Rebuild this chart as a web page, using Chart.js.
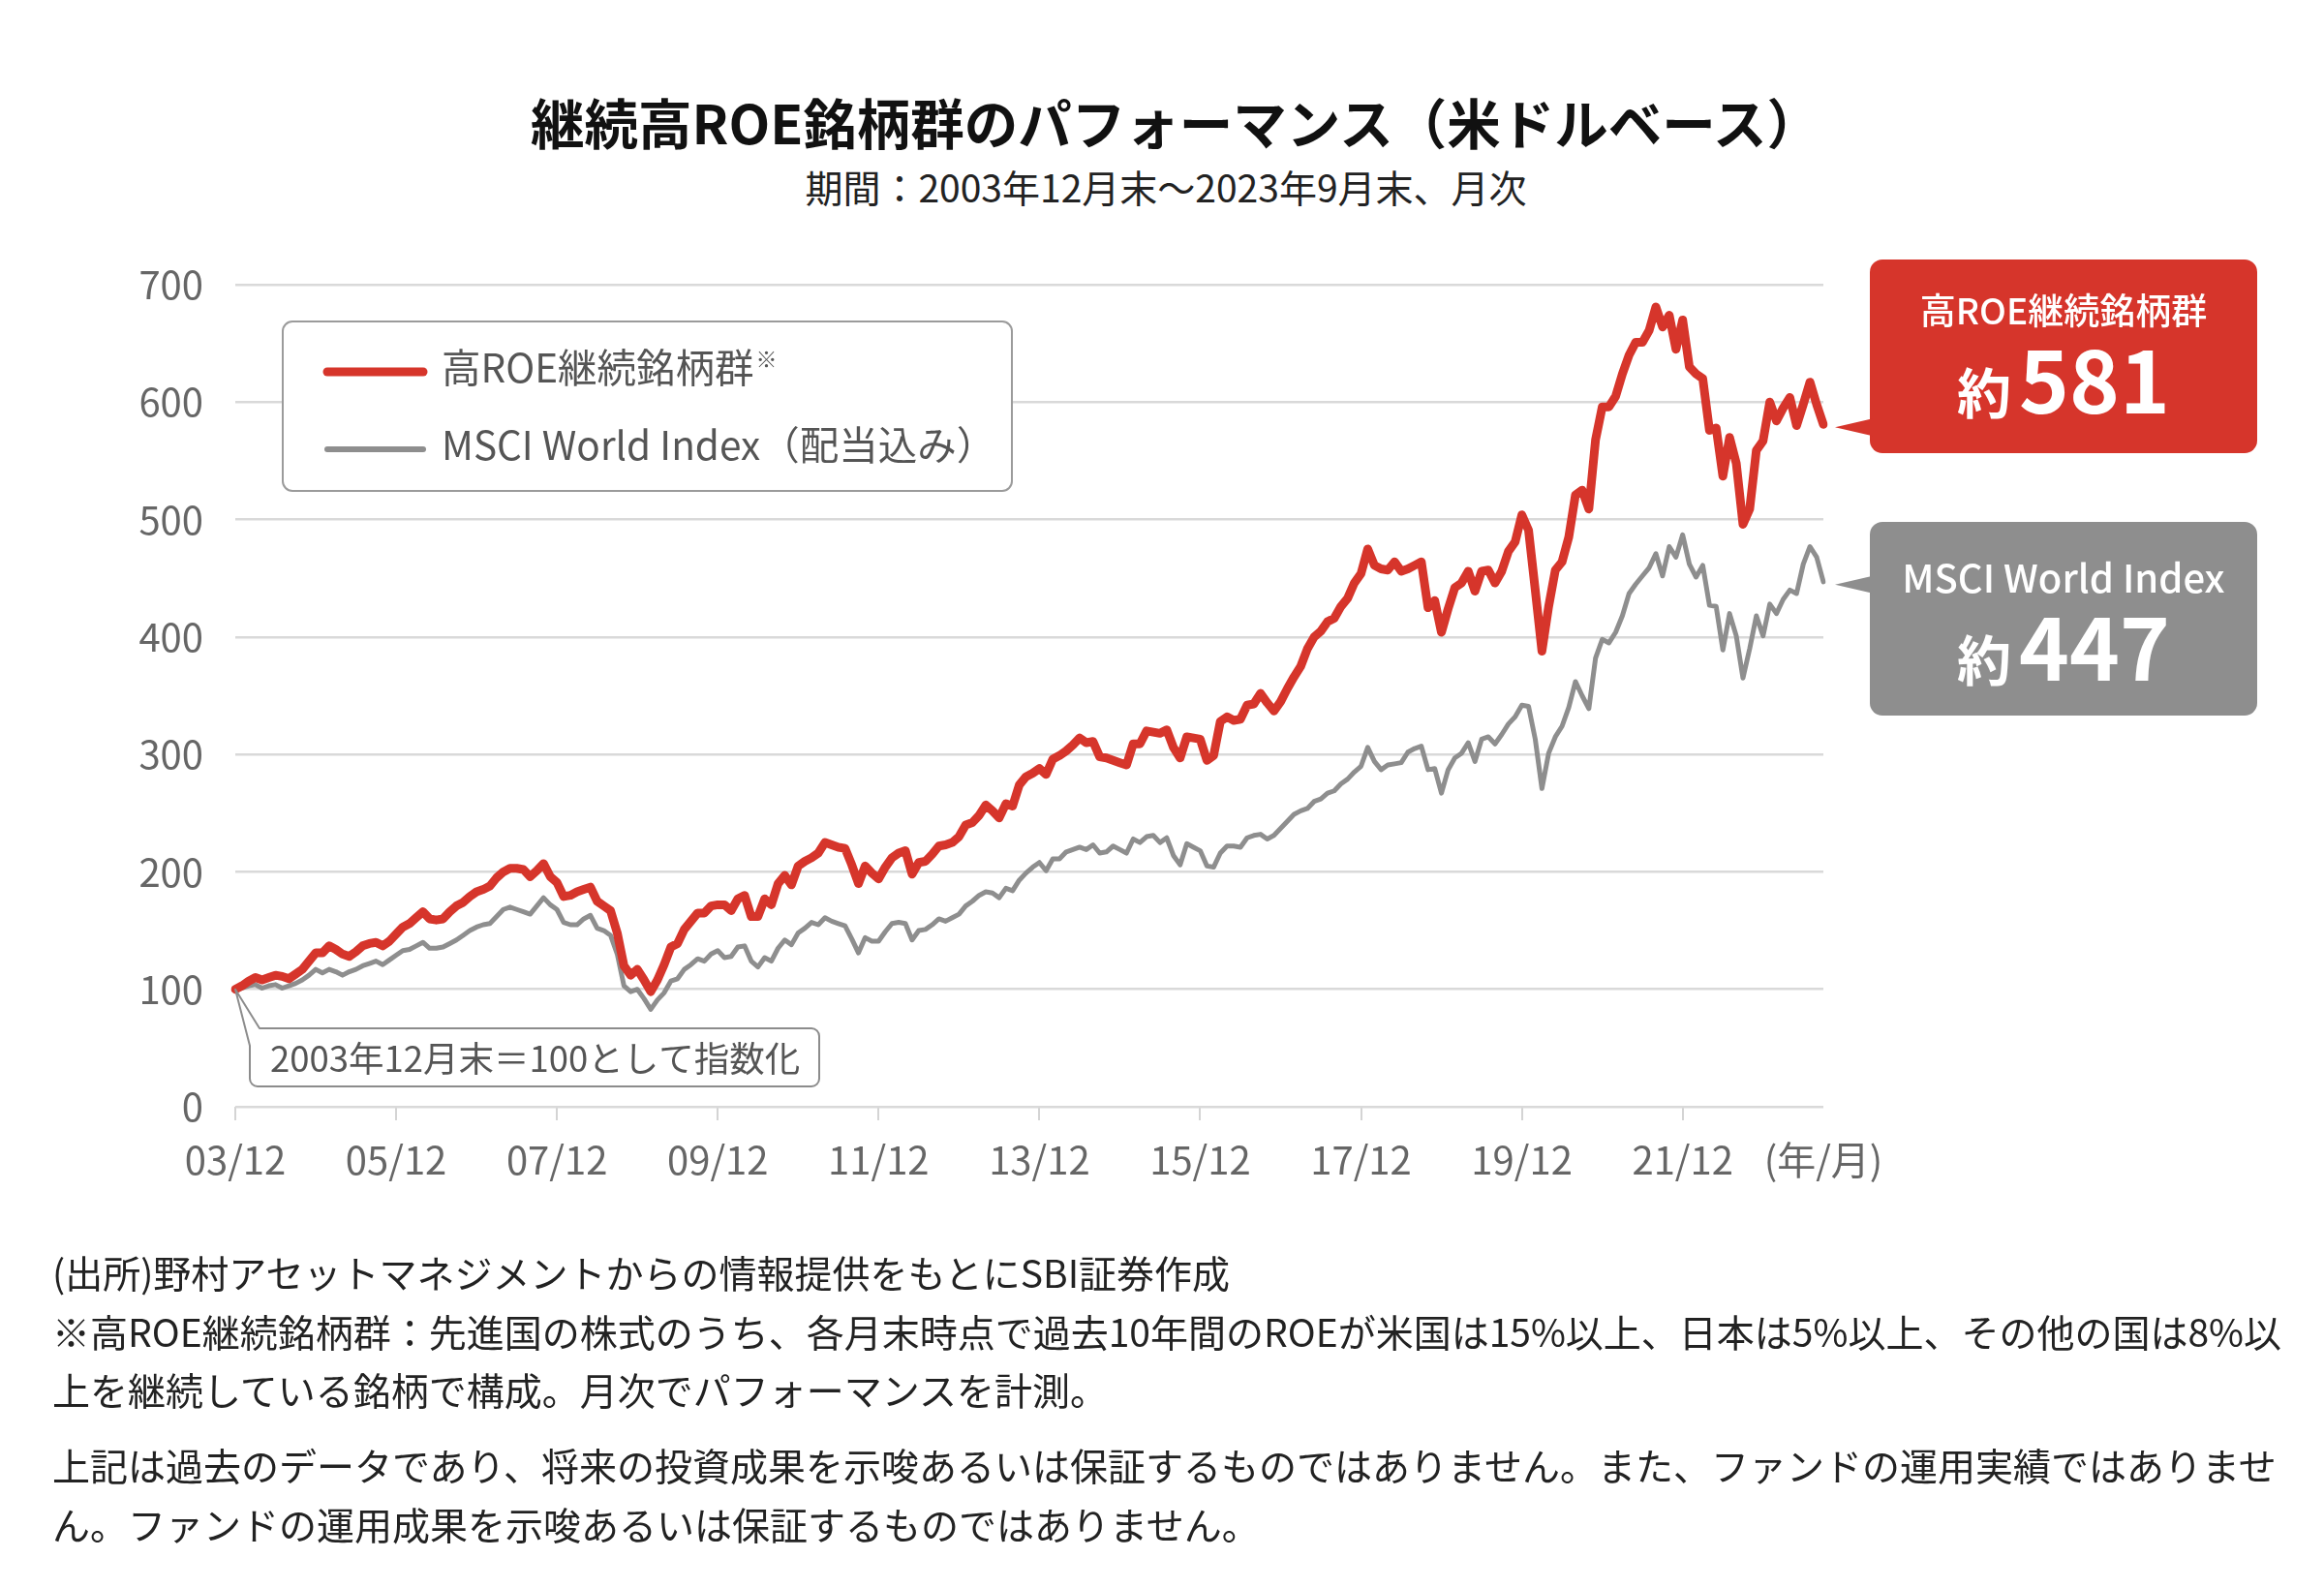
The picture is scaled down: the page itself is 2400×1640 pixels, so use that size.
<!DOCTYPE html>
<html lang="ja">
<head>
<meta charset="utf-8">
<title>継続高ROE銘柄群のパフォーマンス</title>
<script src="https://cdn.jsdelivr.net/npm/chart.js@4.4.1/dist/chart.umd.min.js"></script>
<style>
  html, body { margin: 0; padding: 0; background: #fff; }
  body {
    width: 2400px; height: 1640px; position: relative; overflow: hidden;
    font-family: "Noto Sans CJK JP", "Noto Sans", sans-serif; color: #1a1a1a;
  }
  #chart { position: absolute; left: 0; top: 0; }
  .title {
    position: absolute; left: 14px; width: 2400px; top: 90px;
    text-align: center; font-size: 55.5px; line-height: 70px; font-weight: 700; color: #111;
  }
  .subtitle {
    position: absolute; left: 4px; width: 2400px; top: 167px;
    text-align: center; font-size: 39px; line-height: 50px; color: #222;
  }
  .notes {
    position: absolute; left: 54px; font-size: 39px; line-height: 60.5px;
    white-space: nowrap; color: #222;
  }
</style>
</head>
<body>
<div class="title">継続高ROE銘柄群のパフォーマンス（米ドルベース）</div>
<div class="subtitle">期間：2003年12月末～2023年9月末、月次</div>
<canvas id="chart" width="2400" height="1640"></canvas>
<div class="notes" style="top:1283px">(出所)野村アセットマネジメントからの情報提供をもとにSBI証券作成<br>※高ROE継続銘柄群：先進国の株式のうち、各月末時点で過去10年間のROEが米国は15%以上、日本は5%以上、その他の国は8%以<br>上を継続している銘柄で構成。月次でパフォーマンスを計測。</div>
<div class="notes" style="top:1482px">上記は過去のデータであり、将来の投資成果を示唆あるいは保証するものではありません。また、ファンドの運用実績ではありませ<br>ん。ファンドの運用成果を示唆あるいは保証するものではありません。</div>

<script>
// monthly index values, 2003/12 = 100
const highRoe = [
  100, 103, 107, 110, 108, 110, 112, 111, 109, 113,
  117, 124, 131, 131, 137, 134, 130, 128, 132, 137,
  139, 140, 137, 141, 147, 153, 156, 161, 166, 160,
  159, 160, 166, 171, 174, 179, 183, 185, 188, 195,
  200, 203, 203, 202, 196, 201, 207, 196, 191, 179,
  180, 183, 185, 187,
  175, 171, 167, 148, 120, 112, 117, 108, 98, 108,
  121, 136, 139, 151, 158, 165, 165, 171, 172, 172,
  167, 177, 180, 162, 162, 177, 172, 190, 197, 189,
  205, 209, 212, 216, 225, 223, 221, 220, 206, 190,
  205, 199, 194, 204, 212, 216, 218, 198, 208, 209,
  215, 222, 223, 225, 230,
  240, 242, 248, 257, 252, 246, 258, 256, 274, 281,
  284, 288, 283, 296, 299, 303, 308, 314, 310, 311,
  298, 297, 295, 293, 291, 309, 309, 320, 319, 318,
  321, 306, 297, 315, 314, 313, 295, 299, 328, 332,
  329, 330, 342, 343, 352, 344, 337, 345, 356, 366,
  375, 390, 400, 405, 413,
  416, 426, 433, 446, 454, 475, 461, 458, 457, 464,
  456, 458, 461, 464, 425, 431, 404, 424, 442, 446,
  456, 439, 456, 457, 446, 456, 473, 481, 504, 491,
  440, 388, 426, 457, 464, 485, 521, 525, 509, 568,
  596, 596, 605, 624, 640, 651, 651, 661,
  681, 664, 674, 645, 670, 630, 624, 620, 576, 578,
  537, 570, 548, 496, 509, 559, 567, 600, 584, 595,
  604, 580, 598, 617, 598, 581
];

const msciWorld = [
  100, 101, 103, 104, 101, 103, 104, 101, 103, 105,
  108, 112, 117, 114, 117, 115, 112, 115, 117, 120,
  122, 124, 121, 125, 129, 133, 134, 137, 140, 135,
  135, 136, 139, 142, 146, 150, 153, 155, 156, 162,
  168, 170, 168, 166, 164, 171, 178, 172, 168, 157,
  155, 155, 160, 163,
  152, 150, 146, 130, 103, 98, 100, 92, 83, 91,
  97, 107, 109, 117, 121, 126, 124, 130, 133, 127,
  128, 136, 137, 124, 119, 127, 124, 135, 142, 138,
  148, 152, 157, 155, 161, 158, 156, 154, 143, 131,
  144, 141, 141, 149, 156, 157, 156, 142, 150, 151,
  155, 160, 158, 161, 164,
  171, 175, 180, 183, 182, 178, 186, 184, 193, 199,
  204, 208, 201, 211, 211, 217, 219, 221, 219, 223,
  216, 217, 222, 219, 216, 228, 225, 230, 231, 225,
  229, 214, 206, 224, 221, 218, 205, 204, 216, 222,
  222, 221, 229, 231, 232, 228, 231, 237, 243, 249,
  252, 254, 260, 262, 267,
  269, 275, 279, 285, 290, 306, 294, 287, 291, 292,
  293, 302, 305, 307, 287, 288, 267, 287, 297, 301,
  310, 294, 313, 315, 309, 317, 326, 332, 342, 341,
  313, 271, 301, 315, 324, 340, 362, 350, 339, 382,
  398, 395, 404, 418, 437, 445, 452, 459,
  471, 452, 477, 468, 487, 462, 451, 461, 427, 426,
  389, 420, 401, 365, 390, 418, 401, 428, 420, 432,
  440, 437, 462, 477, 468, 447
];

const tickLabels = ["03/12", "05/12", "07/12", "09/12", "11/12", "13/12", "15/12", "17/12", "19/12", "21/12"];
const unitLabel = "(年/月)";
const yTicks = [0, 100, 200, 300, 400, 500, 600, 700];

// 2003/12 .. 2023/09
const months = [];
for (let y = 2003, m = 12; y < 2023 || (y === 2023 && m <= 9); ) {
  months.push(String(y % 100).padStart(2, "0") + "/" + String(m).padStart(2, "0"));
  m++;
  if (m > 12) { m = 1; y++; }
}

const FONT = '"Noto Sans CJK JP", "Noto Sans", sans-serif';
const RED = "#D6352B";
const GREY = "#8E8E8E";

function isLabeled(i) {
  return tickLabels.includes(months[i]);
}

const overlayPlugin = {
  id: "overlay",
  afterDraw(chart) {
    const ctx = chart.ctx;
    const sets = chart.data.datasets;
    ctx.save();

    // legend box
    ctx.beginPath();
    ctx.roundRect(292, 332, 753, 175, 10);
    ctx.fillStyle = "#fff";
    ctx.fill();
    ctx.lineWidth = 2;
    ctx.strokeStyle = "#9b9b9b";
    ctx.stroke();
    const rows = [{ ds: 0, y: 380, lw: 9 }, { ds: 1, y: 460, lw: 6 }];
    rows.forEach(r => {
      ctx.beginPath();
      ctx.moveTo(338, r.y + 4);
      ctx.lineTo(437, r.y + 4);
      ctx.lineCap = "round";
      ctx.lineWidth = r.lw;
      ctx.strokeStyle = sets[r.ds].borderColor;
      ctx.stroke();
      ctx.fillStyle = "#555";
      ctx.font = "40.5px " + FONT;
      ctx.textBaseline = "middle";
      ctx.textAlign = "left";
      ctx.fillText(sets[r.ds].label, 456, r.y);
      if (sets[r.ds].note) {
        const w = ctx.measureText(sets[r.ds].label).width;
        ctx.font = "22px " + FONT;
        ctx.fillText(sets[r.ds].note, 456 + w + 2, r.y - 9);
      }
    });

    // base note with pointer to the first point
    const p0 = chart.getDatasetMeta(0).data[0];
    const L = 258, T = 1062, R = 846, B = 1122, rad = 8;
    ctx.beginPath();
    ctx.moveTo(p0.x, p0.y);
    ctx.lineTo(L + 10, T);
    ctx.lineTo(R - rad, T);
    ctx.arcTo(R, T, R, T + rad, rad);
    ctx.lineTo(R, B - rad);
    ctx.arcTo(R, B, R - rad, B, rad);
    ctx.lineTo(L + rad, B);
    ctx.arcTo(L, B, L, B - rad, rad);
    ctx.lineTo(L, T + 18);
    ctx.closePath();
    ctx.fillStyle = "#fff";
    ctx.fill();
    ctx.lineWidth = 2;
    ctx.lineJoin = "round";
    ctx.strokeStyle = "#8c8c8c";
    ctx.stroke();
    ctx.fillStyle = "#555";
    ctx.font = "36.5px " + FONT;
    ctx.textBaseline = "middle";
    ctx.textAlign = "left";
    ctx.fillText("2003年12月末＝100として指数化", 279, 1093);

    // end-value callouts
    const boxes = [
      { ds: 0, top: 268, name: "高ROE継続銘柄群", nameSize: 37, nameY: 321, valY: 427, fill: RED },
      { ds: 1, top: 539, name: "MSCI World Index", nameSize: 40, nameY: 597, valY: 703, fill: GREY }
    ];
    boxes.forEach(b => {
      const pts = chart.getDatasetMeta(b.ds).data;
      const last = pts[pts.length - 1];
      const vals = sets[b.ds].data;
      const tipX = last.x + 12, tipY = last.y + 3;
      ctx.fillStyle = b.fill;
      ctx.beginPath();
      ctx.roundRect(1931, b.top, 400, 200, 13);
      ctx.fill();
      ctx.beginPath();
      ctx.moveTo(tipX, tipY);
      ctx.lineTo(1934, tipY - 9);
      ctx.lineTo(1934, tipY + 9);
      ctx.closePath();
      ctx.fill();

      ctx.fillStyle = "#fff";
      ctx.textAlign = "center";
      ctx.textBaseline = "middle";
      ctx.font = "500 " + b.nameSize + "px " + FONT;
      ctx.fillText(b.name, 2131, b.nameY);

      const num = String(Math.round(vals[vals.length - 1]));
      ctx.textBaseline = "alphabetic";
      ctx.textAlign = "left";
      ctx.font = "700 56px " + FONT;
      const w1 = ctx.measureText("約").width;
      ctx.font = "700 88px " + FONT;
      const w2 = ctx.measureText(num).width;
      const x0 = 2131 - (w1 + 8 + w2) / 2;
      ctx.font = "700 56px " + FONT;
      ctx.fillText("約", x0, b.valY);
      ctx.font = "700 88px " + FONT;
      ctx.fillText(num, x0 + w1 + 8, b.valY);
    });
    ctx.restore();
  }
};

new Chart(document.getElementById("chart"), {
  type: "line",
  data: {
    labels: months,
    datasets: [
      {
        label: "高ROE継続銘柄群",
        note: "※",
        data: highRoe,
        borderColor: RED,
        borderWidth: 9,
        pointRadius: 0,
        borderJoinStyle: "round",
        borderCapStyle: "round",
        tension: 0
      },
      {
        label: "MSCI World Index（配当込み）",
        data: msciWorld,
        borderColor: GREY,
        borderWidth: 5,
        pointRadius: 0,
        borderJoinStyle: "round",
        borderCapStyle: "round",
        tension: 0
      }
    ]
  },
  options: {
    responsive: false,
    animation: false,
    devicePixelRatio: 1,
    layout: { padding: { left: 0, right: 517, top: 294, bottom: 417 } },
    plugins: {
      legend: { display: false },
      tooltip: { enabled: false }
    },
    scales: {
      x: {
        border: { display: false },
        grid: {
          drawOnChartArea: false,
          tickLength: 14,
          lineWidth: 2,
          color: c => (isLabeled(c.index) ? "#d4d4d4" : "rgba(0,0,0,0)")
        },
        ticks: {
          autoSkip: false,
          maxRotation: 0,
          minRotation: 0,
          padding: 17,
          color: "#666",
          font: { size: 40, family: FONT },
          callback: function (value, index) {
            if (index === months.length - 1) return unitLabel;
            return isLabeled(index) ? months[index] : "";
          }
        },
        afterFit: s => { s.height = 80; }
      },
      y: {
        min: yTicks[0],
        max: yTicks[yTicks.length - 1],
        border: { display: false },
        grid: { color: "#d9d9d9", lineWidth: 2.5, drawTicks: false },
        ticks: {
          stepSize: 100,
          padding: 33,
          color: "#666",
          font: { size: 40, family: FONT }
        },
        afterFit: s => { s.width = 243; }
      }
    }
  },
  plugins: [overlayPlugin]
});
</script>
</body>
</html>
